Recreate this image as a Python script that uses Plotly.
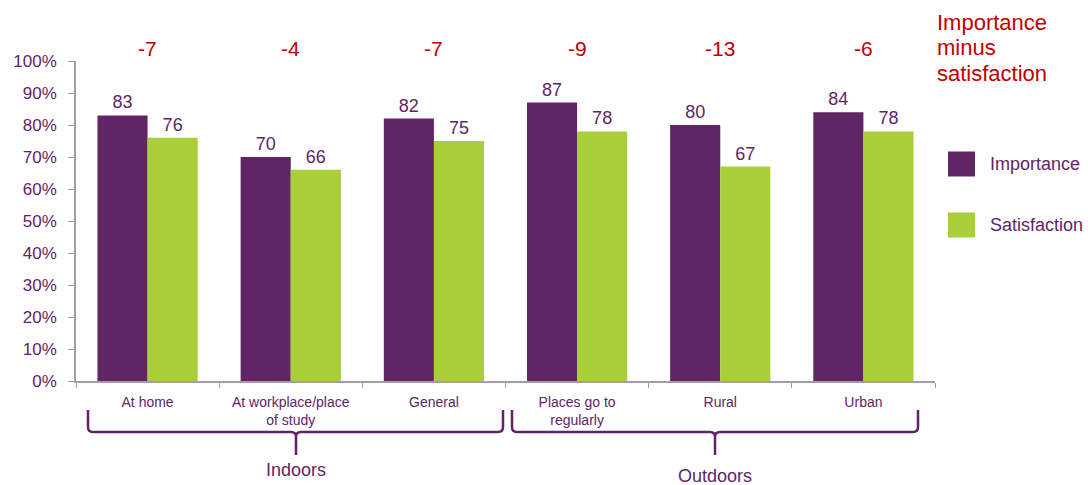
import plotly.graph_objects as go

# Survey results: importance vs satisfaction by setting
categories = ["At home", "At workplace/place<br>of study", "General",
              "Places go to<br>regularly", "Rural", "Urban"]
importance = [83, 70, 82, 87, 80, 84]
satisfaction = [76, 66, 75, 78, 67, 78]
groups = ["Indoors", "Outdoors"]
y_ticks = [0, 10, 20, 30, 40, 50, 60, 70, 80, 90, 100]
gap_title = ["Importance", "minus", "satisfaction"]

PURPLE = "#612566"
GREEN = "#A8CE38"
RED = "#C00000"
AXIS = "#A89AA8"
FONT = "Arial, Liberation Sans, sans-serif"

W, H = 1088, 485
L, R, T, B = 76, 153, 61, 104
PW, PH = W - L - R, H - T - B


def px(x):
    return (x - L) / PW


def py(y):
    return (H - B - y) / PH


fig = go.Figure()
for name, vals, color in [("Importance", importance, PURPLE),
                          ("Satisfaction", satisfaction, GREEN)]:
    fig.add_trace(go.Bar(x=categories, y=vals, name=name,
                         marker_color=color, marker_line_width=0,
                         text=[str(v) for v in vals], textposition="outside",
                         textfont=dict(color=PURPLE, size=18, family=FONT),
                         cliponaxis=False, showlegend=False))

annotations = []
shapes = []

# Gap labels above each category
for i, (a, b) in enumerate(zip(importance, satisfaction)):
    annotations.append(dict(x=(i + 0.5) / len(categories), xref="paper",
                            y=py(48), yref="paper", text=str(b - a),
                            showarrow=False, xanchor="center", yanchor="middle",
                            font=dict(color=RED, size=21, family=FONT)))

for line, yc in zip(gap_title, [22, 47, 73]):
    annotations.append(dict(x=px(935), y=py(yc), xref="paper", yref="paper",
                            text=line, showarrow=False, xanchor="left",
                            yanchor="middle",
                            font=dict(color=RED, size=22, family=FONT)))

# Custom legend
for label, color, yc in [("Importance", PURPLE, 164), ("Satisfaction", GREEN, 225)]:
    shapes.append(dict(type="rect", xref="paper", yref="paper",
                       x0=px(948), x1=px(975), y0=py(yc - 12.5), y1=py(yc + 12.5),
                       fillcolor=color, line_width=0))
    annotations.append(dict(x=px(988), y=py(yc), xref="paper", yref="paper",
                            text=label, showarrow=False, xanchor="left",
                            yanchor="middle",
                            font=dict(color=PURPLE, size=18, family=FONT)))

# Curly braces grouping categories
brace_spans = [(88, 503, 296, 470), (512, 918, 715, 476)]
for gname, (x0, x1, xm, ty) in zip(groups, brace_spans):
    yt, yb, ytip = 410, 432, 455
    r = 5
    pts = (f"M {px(x0)},{py(yt)} "
           f"L {px(x0)},{py(yb - r)} Q {px(x0)},{py(yb)} {px(x0 + r)},{py(yb)} "
           f"L {px(xm - r)},{py(yb)} Q {px(xm)},{py(yb)} {px(xm)},{py(yb + r)} "
           f"L {px(xm)},{py(ytip)} "
           f"M {px(xm)},{py(yb + r)} Q {px(xm)},{py(yb)} {px(xm + r)},{py(yb)} "
           f"L {px(x1 - r)},{py(yb)} Q {px(x1)},{py(yb)} {px(x1)},{py(yb - r)} "
           f"L {px(x1)},{py(yt)}")
    shapes.append(dict(type="path", path=pts, xref="paper", yref="paper",
                       line=dict(color=PURPLE, width=2.5)))
    annotations.append(dict(x=px(xm), y=py(ty), xref="paper", yref="paper",
                            text=gname, showarrow=False, xanchor="center",
                            yanchor="middle",
                            font=dict(color=PURPLE, size=18, family=FONT)))

fig.update_layout(
    width=W, height=H,
    margin=dict(l=L, r=R, t=T, b=B),
    plot_bgcolor="white", paper_bgcolor="white",
    barmode="group", bargap=0.3, bargroupgap=0,
    font=dict(family=FONT, color=PURPLE),
    annotations=annotations, shapes=shapes,
    xaxis=dict(showline=True, linecolor=AXIS, linewidth=1.5,
               ticks="outside", tickson="boundaries", ticklen=5,
               tickcolor=AXIS, tickfont=dict(size=14, color=PURPLE),
               ticklabelstandoff=7, showgrid=False),
    yaxis=dict(range=[0, 100], tickvals=y_ticks,
               ticktext=[f"{v}%" for v in y_ticks],
               showline=True, linecolor=AXIS, linewidth=1.5,
               ticks="outside", ticklen=6, tickcolor=AXIS,
               tickfont=dict(size=17, color=PURPLE), ticklabelstandoff=8,
               showgrid=False, zeroline=False),
)

fig.write_html("out.html")
